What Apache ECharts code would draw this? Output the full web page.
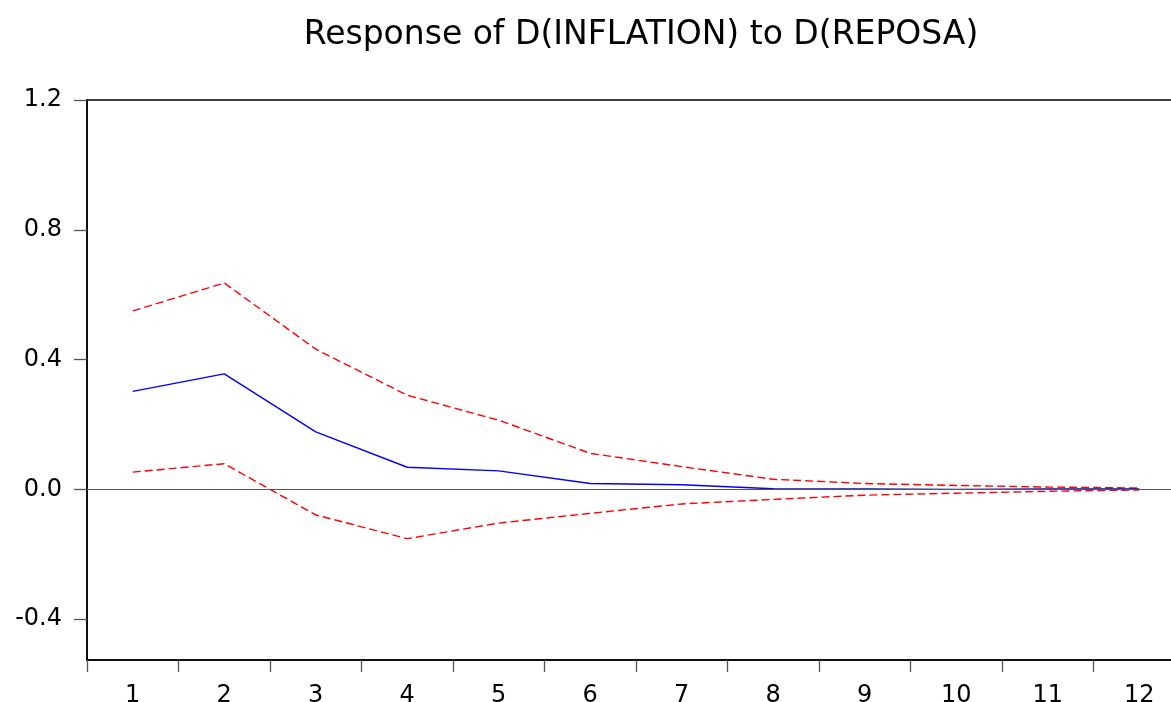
<!DOCTYPE html>
<html>
<head>
<meta charset="utf-8">
<script src="https://cdn.jsdelivr.net/npm/echarts@6/dist/echarts.min.js"></script>
<style>html,body{margin:0;padding:0;background:#fff;overflow:hidden;}#chart{width:1200px;height:730px;}</style>
</head>
<body>
<div id="chart"></div>
<script>
const titleText = 'Response of D(INFLATION) to D(REPOSA)';
const periods = ['1','2','3','4','5','6','7','8','9','10','11','12'];
const response = [0.302, 0.356, 0.177, 0.068, 0.057, 0.018, 0.014, 0.002, 0.001, 0.000, 0.001, 0.001];
const upperBand = [0.550, 0.636, 0.432, 0.290, 0.213, 0.111, 0.070, 0.031, 0.018, 0.012, 0.007, 0.004];
const lowerBand = [0.053, 0.079, -0.079, -0.152, -0.104, -0.074, -0.045, -0.031, -0.018, -0.012, -0.006, -0.002];
const yTicks = [-0.4, 0.0, 0.4, 0.8, 1.2];
const yMin = -0.526, yMax = 1.2;

const font = 'DejaVu Sans, Liberation Sans, Arial, sans-serif';
const chart = echarts.init(document.getElementById('chart'), null, {renderer: 'canvas'});
chart.setOption({
  animation: false,
  backgroundColor: '#ffffff',
  title: {
    text: titleText,
    left: 636, top: 14, textAlign: 'center',
    textStyle: {fontFamily: font, fontSize: 33, fontWeight: 'normal', color: '#000'}
  },
  grid: {left: 87, top: 100, right: 15, bottom: 70, outerBoundsMode: 'none', containLabel: false,
    show: true, borderColor: '#000', borderWidth: 1.5, backgroundColor: 'transparent'},
  xAxis: {
    type: 'category', data: periods, boundaryGap: true,
    axisLine: {show: true, onZero: false, lineStyle: {color: '#000', width: 1.5}},
    axisTick: {show: true, inside: false, length: 12, alignWithLabel: false, lineStyle: {color: '#555', width: 1.3}},
    axisLabel: {fontFamily: font, fontSize: 24, color: '#000', margin: 24},
    splitLine: {show: false}
  },
  yAxis: {
    type: 'value', min: yMin, max: yMax,
    axisLine: {show: true, lineStyle: {color: '#000', width: 1.5}},
    axisTick: {show: true, inside: false, length: 13, customValues: yTicks, lineStyle: {color: '#555', width: 1.3}},
    axisLabel: {fontFamily: font, fontSize: 24, color: '#000', margin: 25, customValues: yTicks,
      formatter: v => v.toFixed(1)},
    splitLine: {show: false}
  },
  series: [
    {
      name: 'upper', type: 'line', data: upperBand, symbol: 'none',
      lineStyle: {color: '#ff0000', width: 1.4, type: [8, 4]},
      markLine: {
        silent: true, symbol: ['none', 'none'], label: {show: false},
        lineStyle: {color: '#555', type: 'solid', width: 1.2},
        data: [{yAxis: 0}]
      },
      z: 3
    },
    {
      name: 'lower', type: 'line', data: lowerBand, symbol: 'none',
      lineStyle: {color: '#ff0000', width: 1.4, type: [8, 4]}, z: 3
    },
    {
      name: 'response', type: 'line', data: response, symbol: 'none',
      lineStyle: {color: '#0000ff', width: 1.4}, z: 4
    }
  ]
});
</script>
</body>
</html>
